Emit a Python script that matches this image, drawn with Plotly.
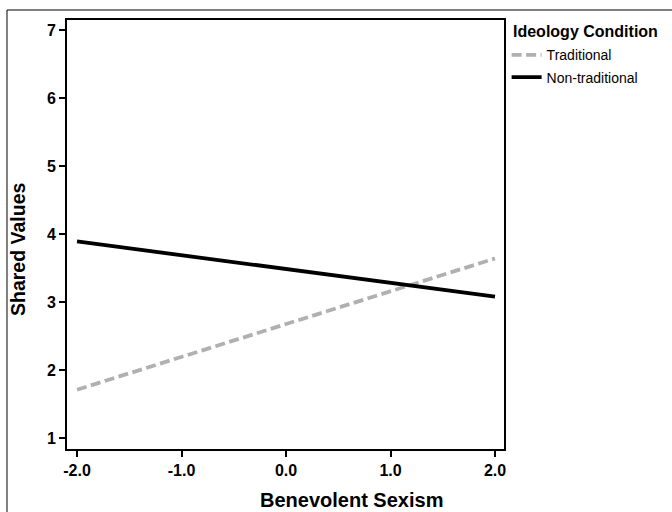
import plotly.graph_objects as go

x_vals = [-2.0, 2.0]
traditional = [1.71, 3.64]
non_traditional = [3.89, 3.08]
x_ticks = [-2, -1, 0, 1, 2]
x_tick_labels = ["-2.0", "-1.0", "0.0", "1.0", "2.0"]
y_ticks = [1, 2, 3, 4, 5, 6, 7]

FONT = "Liberation Sans, Arial, sans-serif"

fig = go.Figure()
fig.add_trace(go.Scatter(x=x_vals, y=traditional, mode="lines", name="Traditional",
                         legendgroup="a",
                         line=dict(color="#b0b0b0", width=3.8, dash="10px,4.5px")))
fig.add_trace(go.Scatter(x=x_vals, y=non_traditional, mode="lines", name="Non-traditional",
                         legendgroup="b",
                         line=dict(color="#000000", width=3.8)))

fig.update_layout(
    width=672, height=512,
    margin=dict(l=67, r=168, t=20, b=63),
    paper_bgcolor="white", plot_bgcolor="white",
    font=dict(family=FONT, color="black"),
    showlegend=True,
    legend=dict(x=1.006, y=0.955, xanchor="left", yanchor="top",
                font=dict(size=14), itemwidth=30, tracegroupgap=1,
                bgcolor="rgba(0,0,0,0)"),
    xaxis=dict(range=[-2.096, 2.086], tickvals=x_ticks, ticktext=[f"<b>{t}</b>" for t in x_tick_labels],
               showgrid=False, zeroline=False, showline=True, mirror=True, linecolor="black", linewidth=2,
               ticks="outside", ticklen=6, tickwidth=2, tickcolor="black",
               tickfont=dict(size=16)),
    yaxis=dict(range=[0.838, 7.147], tickvals=y_ticks, ticktext=[f"<b>{t}</b>" for t in y_ticks],
               showgrid=False, zeroline=False, showline=True, mirror=True, linecolor="black", linewidth=2,
               ticks="outside", ticklen=6, tickwidth=2, tickcolor="black",
               tickfont=dict(size=16)),
    annotations=[
        dict(text="<b>Benevolent Sexism</b>", xref="paper", yref="paper",
             x=(351 - 67) / 437, y=(449 - 500) / 429, xanchor="center", yanchor="middle",
             showarrow=False, font=dict(size=20)),
        dict(text="<b>Shared Values</b>", xref="paper", yref="paper", textangle=-90,
             x=(18 - 67) / 437, y=(449 - 250) / 429, xanchor="center", yanchor="middle",
             showarrow=False, font=dict(size=19.5)),
        dict(text="<b>Ideology Condition</b>", xref="paper", yref="paper",
             x=(511 - 67) / 437, y=(449 - 31) / 429, xanchor="left", yanchor="middle",
             showarrow=False, font=dict(size=16)),
    ],
    shapes=[dict(type="rect", xref="paper", yref="paper", x0=-0.1373, x1=2.0, y0=-1.0, y1=1.0233,
                 line=dict(color="black", width=1), fillcolor="rgba(0,0,0,0)", layer="below")],
)

fig.write_html("out.html")
